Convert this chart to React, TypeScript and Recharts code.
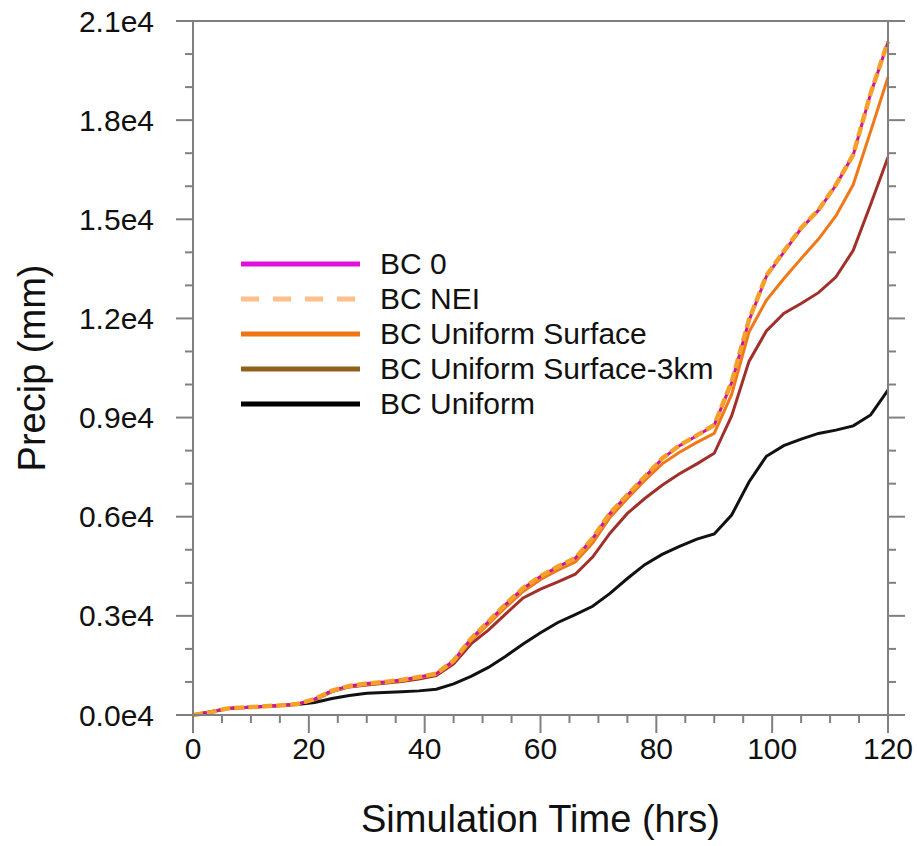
import { LineChart, Line, XAxis, YAxis, Legend } from 'recharts';

// hours since start of simulation
const hours = [
  0, 3, 6, 9, 12, 15, 18, 21, 24, 27, 30, 33, 36, 39, 42, 45, 48, 51, 54, 57, 60,
  63, 66, 69, 72, 75, 78, 81, 84, 87, 90, 93, 96, 99, 102, 105, 108, 111, 114, 117, 120,
];

// accumulated precip (mm)
const bc0 = [
  0, 80, 200, 230, 260, 290, 330, 480, 740, 880, 950, 1000, 1060, 1150, 1250, 1640, 2300, 2820, 3350, 3830, 4190,
  4480, 4740, 5340, 6100, 6650, 7200, 7750, 8150, 8450, 8770, 10050, 11930, 13270, 14000, 14720, 15270, 16030, 16950, 18800, 20360,
];
const bcNei = [
  0, 80, 200, 230, 260, 290, 330, 480, 740, 880, 950, 1000, 1060, 1150, 1250, 1650, 2310, 2830, 3360, 3840, 4200,
  4490, 4750, 5350, 6110, 6660, 7210, 7760, 8160, 8460, 8780, 10080, 11960, 13300, 14030, 14740, 15280, 16040, 16960, 18810, 20380,
];
const bcSurface = [
  0, 80, 200, 230, 260, 290, 330, 470, 720, 860, 930, 980, 1040, 1130, 1230, 1610, 2250, 2750, 3260, 3740, 4100,
  4380, 4630, 5200, 5980, 6550, 7100, 7600, 7950, 8250, 8520, 9700, 11590, 12550, 13200, 13810, 14400, 15100, 16050, 17660, 19300,
];
const bcSurface3km = [
  0, 80, 200, 230, 260, 290, 330, 450, 710, 850, 910, 960, 1010, 1090, 1190, 1550, 2150, 2570, 3060, 3540, 3810,
  4030, 4260, 4780, 5500, 6100, 6550, 6950, 7300, 7600, 7920, 9050, 10700, 11620, 12150, 12450, 12780, 13250, 14060, 15450, 16880,
];
const bcUniform = [
  0, 100, 200, 230, 260, 290, 320, 380, 500, 590, 655, 680, 700, 730, 780, 940, 1170, 1440, 1780, 2150, 2490,
  2800, 3040, 3290, 3680, 4130, 4550, 4860, 5100, 5320, 5480, 6050, 7050, 7830, 8150, 8350, 8520, 8620, 8750, 9080, 9830,
];

const xTicks = [0, 5, 10, 15, 20, 25, 30, 35, 40, 45, 50, 55, 60, 65, 70, 75, 80, 85, 90, 95, 100, 105, 110, 115, 120];
const yTicks = [
  0, 1000, 2000, 3000, 4000, 5000, 6000, 7000, 8000, 9000, 10000, 11000, 12000, 13000, 14000, 15000, 16000,
  17000, 18000, 19000, 20000, 21000,
];

const legendItems = [
  { name: 'BC 0', color: '#e010dc', dash: '' },
  { name: 'BC NEI', color: '#ffc08c', dash: '18 14' },
  { name: 'BC Uniform Surface', color: '#ee7414', dash: '' },
  { name: 'BC Uniform Surface-3km', color: '#93601c', dash: '' },
  { name: 'BC Uniform', color: '#000000', dash: '' },
];

const data = hours.map((t, i) => ({
  t,
  bc0: bc0[i],
  nei: bcNei[i],
  surface: bcSurface[i],
  surface3km: bcSurface3km[i],
  uniform: bcUniform[i],
}));

const AXIS = '#808080';
const FONT = '"Liberation Sans", Arial, Helvetica, sans-serif';

const fmtY = (v: number) => (v / 10000).toFixed(1) + 'e4';

function LeftTick(props: any) {
  const { x, y, payload } = props;
  const major = payload.value % 3000 === 0;
  return (
    <g>
      <line x1={x} x2={x - (major ? 17 : 8)} y1={y} y2={y} stroke={AXIS} strokeWidth={2} />
      {major && (
        <text x={x - 39} y={y} textAnchor="end" dominantBaseline="central" fontSize={30} fontFamily={FONT} fill="#111">
          {fmtY(payload.value)}
        </text>
      )}
    </g>
  );
}

function RightTick(props: any) {
  const { x, y, payload } = props;
  const major = payload.value % 3000 === 0;
  return <line x1={x} x2={x + (major ? 17 : 8)} y1={y} y2={y} stroke={AXIS} strokeWidth={2} />;
}

function BottomTick(props: any) {
  const { x, y, payload } = props;
  const major = payload.value % 20 === 0;
  return (
    <g>
      <line x1={x} x2={x} y1={y} y2={y + (major ? 18 : 8)} stroke={AXIS} strokeWidth={2} />
      {major && (
        <text x={x} y={y + 44} textAnchor="middle" fontSize={30} fontFamily={FONT} fill="#111">
          {payload.value}
        </text>
      )}
    </g>
  );
}

function LegendBox() {
  return (
    <div style={{ fontFamily: FONT, fontSize: 30, color: '#111' }}>
      {legendItems.map((item) => (
        <div key={item.name} style={{ display: 'flex', alignItems: 'center', height: 35 }}>
          <svg width={139} height={10} style={{ display: 'block' }}>
            <line x1={0} x2={119} y1={5} y2={5} stroke={item.color} strokeWidth={5} strokeDasharray={item.dash || undefined} />
          </svg>
          <span style={{ lineHeight: '35px', whiteSpace: 'nowrap' }}>{item.name}</span>
        </div>
      ))}
    </div>
  );
}

export default function App() {
  return (
    <div style={{ position: 'absolute', left: 0, top: 0, background: '#fff' }}>
      <LineChart width={917} height={846} data={data} margin={{ top: 0, right: 0, bottom: 0, left: 0 }}>
        <XAxis
          dataKey="t"
          type="number"
          domain={[0, 120]}
          ticks={xTicks}
          interval={0}
          height={131}
          tickSize={0}
          tickMargin={0}
          tickLine={false}
          axisLine={{ stroke: AXIS, strokeWidth: 2 }}
          tick={<BottomTick />}
          label={(p: any) => {
            const vb = p.viewBox;
            return (
              <text x={vb.x + vb.width / 2} y={vb.y + 104} textAnchor="middle" dominantBaseline="central" fontSize={38} fontFamily={FONT} fill="#111">
                Simulation Time (hrs)
              </text>
            );
          }}
        />
        <XAxis
          xAxisId="top"
          orientation="top"
          type="number"
          domain={[0, 120]}
          allowDataOverflow
          height={21}
          tick={false}
          tickLine={false}
          axisLine={{ stroke: AXIS, strokeWidth: 2 }}
        />
        <YAxis
          type="number"
          domain={[0, 21000]}
          ticks={yTicks}
          interval={0}
          width={193}
          tickSize={0}
          tickMargin={0}
          tickLine={false}
          axisLine={{ stroke: AXIS, strokeWidth: 2 }}
          tick={<LeftTick />}
          label={(p: any) => {
            const vb = p.viewBox;
            const cx = 32;
            const cy = vb.y + vb.height / 2;
            return (
              <text x={cx} y={cy} transform={`rotate(-90 ${cx} ${cy})`} textAnchor="middle" dominantBaseline="central" fontSize={38} fontFamily={FONT} fill="#111">
                Precip (mm)
              </text>
            );
          }}
        />
        <YAxis
          yAxisId="right"
          orientation="right"
          type="number"
          domain={[0, 21000]}
          allowDataOverflow
          ticks={yTicks}
          interval={0}
          width={29}
          tickSize={0}
          tickMargin={0}
          tickLine={false}
          axisLine={{ stroke: AXIS, strokeWidth: 2 }}
          tick={<RightTick />}
        />
        <Legend
          layout="vertical"
          align="center"
          verticalAlign="middle"
          wrapperStyle={{ left: 241, top: 246, width: 'auto' }}
          content={() => <LegendBox />}
        />
        <Line dataKey="uniform" name="BC Uniform" stroke="#111111" strokeWidth={3} dot={false} isAnimationActive={false} />
        <Line dataKey="surface3km" name="BC Uniform Surface-3km" stroke="#a1302b" strokeWidth={3} dot={false} isAnimationActive={false} />
        <Line dataKey="surface" name="BC Uniform Surface" stroke="#f07818" strokeWidth={3} dot={false} isAnimationActive={false} />
        <Line dataKey="bc0" name="BC 0" stroke="#cf1499" strokeWidth={3} dot={false} isAnimationActive={false} />
        <Line dataKey="nei" name="BC NEI" stroke="#f4a12c" strokeWidth={4.5} strokeDasharray="10 4" dot={false} isAnimationActive={false} />
      </LineChart>
    </div>
  );
}
